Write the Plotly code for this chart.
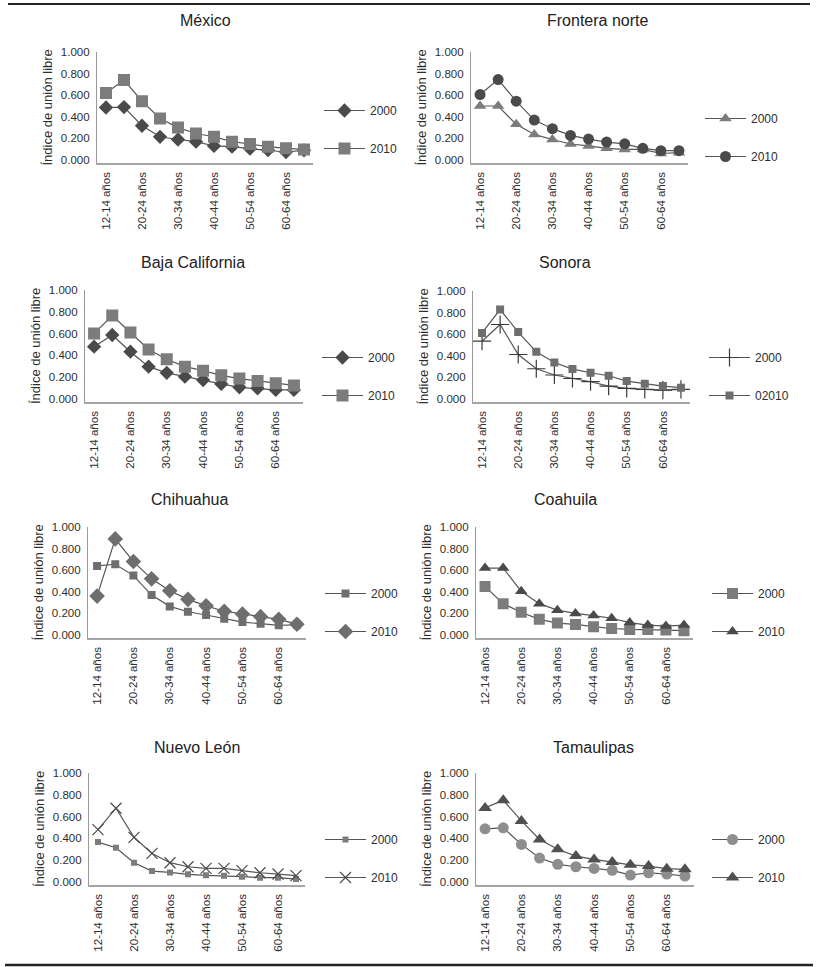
import plotly.graph_objects as go

# ---------------- data ----------------
categories = ["12-14 años", "15-19 años", "20-24 años", "25-29 años", "30-34 años",
              "35-39 años", "40-44 años", "45-49 años", "50-54 años", "55-59 años",
              "60-64 años", "65 años y más"]
tick_labels = ["12-14 años", "20-24 años", "30-34 años", "40-44 años", "50-54 años", "60-64 años"]
y_ticks = [0.0, 0.2, 0.4, 0.6, 0.8, 1.0]

mexico_2000 = [0.486, 0.490, 0.317, 0.215, 0.190, 0.170, 0.130, 0.123, 0.105, 0.092, 0.074, 0.090]
mexico_2010 = [0.620, 0.740, 0.545, 0.385, 0.300, 0.245, 0.215, 0.170, 0.148, 0.123, 0.108, 0.098]
frontera_2000 = [0.500, 0.500, 0.330, 0.237, 0.190, 0.148, 0.130, 0.108, 0.098, 0.098, 0.060, 0.068]
frontera_2010 = [0.606, 0.745, 0.545, 0.370, 0.290, 0.228, 0.194, 0.166, 0.150, 0.108, 0.086, 0.086]
baja_2000 = [0.480, 0.587, 0.434, 0.297, 0.240, 0.205, 0.174, 0.138, 0.107, 0.098, 0.083, 0.083]
baja_2010 = [0.600, 0.765, 0.610, 0.455, 0.365, 0.297, 0.260, 0.217, 0.187, 0.165, 0.144, 0.125]
sonora_2000 = [0.535, 0.690, 0.412, 0.280, 0.222, 0.190, 0.160, 0.120, 0.098, 0.090, 0.083, 0.090]
sonora_2010 = [0.612, 0.828, 0.620, 0.437, 0.338, 0.277, 0.243, 0.215, 0.166, 0.142, 0.120, 0.105]
chihuahua_2000 = [0.640, 0.655, 0.550, 0.370, 0.265, 0.215, 0.185, 0.150, 0.120, 0.105, 0.090, 0.095]
chihuahua_2010 = [0.360, 0.890, 0.680, 0.520, 0.410, 0.330, 0.270, 0.220, 0.195, 0.170, 0.145, 0.100]
coahuila_2000 = [0.450, 0.290, 0.210, 0.145, 0.110, 0.098, 0.077, 0.060, 0.052, 0.052, 0.046, 0.040]
coahuila_2010 = [0.620, 0.620, 0.405, 0.290, 0.230, 0.200, 0.180, 0.155, 0.115, 0.092, 0.083, 0.092]
nuevoleon_2000 = [0.366, 0.314, 0.177, 0.100, 0.088, 0.070, 0.061, 0.058, 0.049, 0.040, 0.040, 0.027]
nuevoleon_2010 = [0.480, 0.677, 0.410, 0.262, 0.177, 0.140, 0.125, 0.125, 0.104, 0.085, 0.073, 0.058]
tamaulipas_2000 = [0.488, 0.497, 0.345, 0.220, 0.162, 0.140, 0.125, 0.107, 0.064, 0.085, 0.073, 0.055]
tamaulipas_2010 = [0.680, 0.750, 0.560, 0.390, 0.300, 0.238, 0.207, 0.183, 0.158, 0.146, 0.122, 0.116]

panel_titles = ["México", "Frontera norte", "Baja California", "Sonora",
                "Chihuahua", "Coahuila", "Nuevo León", "Tamaulipas"]
series_names = [("2000", "2010"), ("2000", "2010"), ("2000", "2010"), ("2000", "02010"),
                ("2000", "2010"), ("2000", "2010"), ("2000", "2010"), ("2000", "2010")]
series_values = [(mexico_2000, mexico_2010), (frontera_2000, frontera_2010),
                 (baja_2000, baja_2010), (sonora_2000, sonora_2010),
                 (chihuahua_2000, chihuahua_2010), (coahuila_2000, coahuila_2010),
                 (nuevoleon_2000, nuevoleon_2010), (tamaulipas_2000, tamaulipas_2010)]

# ---------------- styling / layout ----------------
W, H = 818, 967
FONT = "Liberation Sans, Arial, sans-serif"
DARK = "#4a4a4a"
MID = "#7c7c7c"
LIGHT = "#8e8e8e"
LINE = "#555555"

styles = [
    (dict(symbol="diamond", size=11, color=DARK), dict(symbol="square", size=12, color=MID)),
    (dict(symbol="triangle-up", size=11, color=MID), dict(symbol="circle", size=11, color=DARK)),
    (dict(symbol="diamond", size=11, color=DARK), dict(symbol="square", size=12, color=MID)),
    (dict(symbol="cross-thin", size=13, color="#3a3a3a", line=dict(width=1.2, color="#3a3a3a")),
     dict(symbol="square", size=8, color="#6e6e6e")),
    (dict(symbol="square", size=8, color="#6e6e6e"), dict(symbol="diamond", size=12, color="#6e6e6e")),
    (dict(symbol="square", size=11, color=MID), dict(symbol="triangle-up", size=11, color=DARK)),
    (dict(symbol="square", size=6, color=MID), dict(symbol="x-thin", size=11, color=DARK,
                                                     line=dict(width=1.2, color=DARK))),
    (dict(symbol="circle", size=11, color=LIGHT), dict(symbol="triangle-up", size=12, color="#505050")),
]

boxes = [
    (97, 313, 52, 160), (471, 688, 52, 160),
    (85, 303, 290, 399), (473, 690, 291, 399),
    (88, 306, 527, 635), (476, 693, 527, 635),
    (89, 305, 773, 882), (476, 694, 773, 882),
]
title_pos = [(205, 20), (597, 20), (193, 263), (565, 263),
             (190, 499), (565, 499), (197, 747), (593, 747)]
legend_pos = [(324, 110), (705, 118), (322, 357), (709, 357),
              (325, 593), (712, 593), (325, 839), (712, 839)]

YMIN = -0.025

fig = go.Figure()
layout = dict(
    width=W, height=H, margin=dict(l=0, r=0, t=0, b=0, pad=0, autoexpand=False),
    paper_bgcolor="white", plot_bgcolor="white",
    font=dict(family=FONT, color="#333333"),
    showlegend=True,
)
annotations = []

for i in range(8):
    n = "" if i == 0 else str(i + 1)
    xa, ya = "x" + n, "y" + n
    lg = "legend" + n
    x0, x1, y1px, y0px = boxes[i]
    ybot = y0px + (0 - YMIN) * (y0px - y1px)
    for k in range(2):
        fig.add_trace(go.Scatter(
            x=categories, y=series_values[i][k], name=series_names[i][k],
            mode="lines+markers", xaxis=xa, yaxis=ya, legend=lg,
            legendgroup=f"p{i}s{k}",
            line=dict(color=LINE, width=1.2),
            marker=styles[i][k],
            hoverinfo="x+y+name",
        ))
    layout["xaxis" + n] = dict(
        domain=[x0 / W, x1 / W], anchor=ya, type="category",
        categoryorder="array", categoryarray=categories,
        range=[-0.5, 11.5], tickmode="array", tickvals=tick_labels, ticktext=tick_labels,
        tickangle=-90, tickfont=dict(size=11.5, color="#2e2e2e", family=FONT),
        showline=True, linecolor="#a5a5a5", linewidth=1.6, ticks="",
        showgrid=False, zeroline=False, ticklabelstandoff=3, automargin=False,
    )
    layout["yaxis" + n] = dict(
        domain=[1 - ybot / H, 1 - y1px / H], anchor=xa,
        range=[YMIN, 1.0], tickmode="array", tickvals=y_ticks, tickformat=".3f",
        tickfont=dict(size=11.5, color="#2e2e2e", family=FONT),
        showline=True, linecolor="#9a9a9a", linewidth=1.2, ticks="",
        showgrid=False, zeroline=False, ticklabelstandoff=4, automargin=False,
        title=dict(text="Índice de unión libre", font=dict(size=13, color="#2e2e2e", family=FONT),
                   standoff=5),
    )
    lx, ly = legend_pos[i]
    layout[lg] = dict(
        x=(lx - 5) / W, y=1 - (ly - 14) / H, xanchor="left", yanchor="top",
        bgcolor="rgba(0,0,0,0)", borderwidth=0, itemwidth=41,
        font=dict(size=12, color="#2e2e2e", family=FONT),
        tracegroupgap=19, traceorder="grouped", itemclick=False, itemdoubleclick=False,
    )
    tx, ty = title_pos[i]
    annotations.append(dict(
        text=panel_titles[i], x=tx / W, y=1 - ty / H, xref="paper", yref="paper",
        xanchor="center", yanchor="middle", showarrow=False,
        font=dict(size=16, color="#222222", family=FONT),
    ))

layout["annotations"] = annotations
layout["shapes"] = [
    dict(type="line", xref="paper", yref="paper", x0=8 / W, x1=810 / W,
         y0=1 - 4 / H, y1=1 - 4 / H, line=dict(color="#222222", width=2)),
    dict(type="line", xref="paper", yref="paper", x0=5 / W, x1=813 / W,
         y0=1 - 965 / H, y1=1 - 965 / H, line=dict(color="#222222", width=2.5)),
]
fig.update_layout(**layout)
fig.write_html(
    "out.html",
    config={"displayModeBar": False},
    post_script=(
        "document.documentElement.style.margin='0';"
        "document.body.style.margin='0';document.body.style.overflow='hidden';"
        "var d=document.getElementById('{plot_id}');"
        "d.style.position='fixed';d.style.top='0px';d.style.left='0px';"
    ),
)
